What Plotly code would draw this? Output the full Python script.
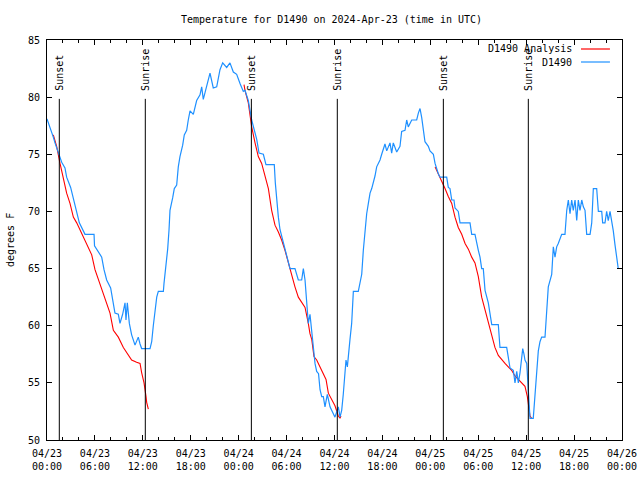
import pandas as pd
import plotly.graph_objects as go

START = pd.Timestamp("2024-04-23 00:00")

# D1490 observations: hours since 2024-04-23 00:00 UTC, temperature (F)
obs_hours = [
    0.0, 0.38, 0.6, 0.79, 1.0, 1.42, 1.84, 2.25, 2.46, 2.96, 3.3, 3.72, 4.05, 4.76, 5.89, 5.95,
    6.43, 6.85, 7.14, 7.47, 7.97, 8.31, 8.51, 8.93, 9.14, 9.47, 9.77, 9.89, 10.06, 10.31, 10.6,
    11.02, 11.43, 11.65, 11.85, 12.9, 13.11, 13.31, 13.52, 13.74, 13.94, 14.57, 14.65, 14.78,
    14.99, 15.11, 15.28, 15.4, 15.74, 15.94, 16.24, 16.44, 16.65, 16.99, 17.19, 17.49, 17.69,
    17.91, 18.32, 18.74, 19.16, 19.37, 19.57, 20.0, 20.41, 20.82, 21.25, 21.66, 22.0, 22.5,
    22.91, 23.33, 23.75, 24.17, 24.58, 24.79, 25.21, 25.63, 25.84, 26.26, 26.55, 27.09, 27.42,
    28.46, 28.59, 28.76, 28.97, 29.18, 29.59, 29.8, 30.01, 30.43, 31.05, 31.47, 31.89, 32.1,
    32.31, 32.52, 32.72, 32.93, 33.15, 33.35, 33.56, 33.77, 34.0, 34.19, 34.4, 34.6, 34.81,
    35.1, 35.44, 36.06, 36.48, 36.69, 36.9, 37.1, 37.32, 37.44, 37.61, 37.73, 37.94, 38.15,
    38.36, 38.98, 39.19, 39.41, 39.61, 39.82, 40.03, 40.24, 40.45, 40.66, 40.86, 41.07, 41.28,
    41.7, 41.91, 42.11, 42.32, 42.54, 42.95, 43.16, 43.36, 43.79, 44.2, 44.41, 44.83, 45.04,
    45.24, 45.67, 46.29, 46.5, 46.71, 46.92, 47.12, 47.33, 47.75, 47.96, 48.38, 48.59, 49.0,
    49.21, 50.05, 50.25, 50.46, 50.68, 50.96, 51.09, 51.5, 51.72, 52.97, 53.18, 53.59, 53.81,
    54.01, 54.22, 54.43, 54.63, 54.76, 54.85, 55.26, 55.47, 55.69, 56.51, 56.72, 57.56, 57.76,
    57.98, 58.39, 58.6, 58.82, 59.02, 59.23, 59.44, 59.57, 59.73, 59.85, 60.07, 60.19, 60.27,
    60.48, 60.89, 61.11, 61.32, 61.52, 61.73, 61.94, 62.36, 62.57, 62.77, 63.2, 63.4, 63.61,
    63.82, 64.02, 64.24, 64.45, 64.86, 65.08, 65.28, 65.49, 65.7, 65.9, 66.12, 66.33, 66.53,
    66.74, 66.96, 67.16, 67.37, 67.58, 68.0, 68.21, 68.41, 68.83, 69.04, 69.46, 69.58, 69.87,
    70.08, 70.28, 70.5, 70.71, 70.91, 71.12, 71.33, 71.53,
]
obs_temps = [
    78.1, 77.4, 77.0, 76.5, 76.0, 75.1, 74.3, 73.8, 73.0, 72.1, 71.1, 70.0, 69.0, 68.0, 68.0, 67.0,
    66.5, 66.0, 64.9, 64.0, 63.3, 62.0, 61.1, 61.0, 60.2, 61.0, 62.0, 60.5, 62.0, 60.2, 59.2,
    58.3, 59.0, 58.4, 58.0, 58.0, 58.6, 60.0, 61.0, 62.5, 63.0, 63.0, 63.7, 64.5,
    65.8, 66.7, 68.4, 70.1, 71.2, 72.0, 72.3, 73.9, 74.8, 75.8, 76.7, 77.1, 78.0,
    78.8, 78.5, 79.7, 80.2, 80.9, 79.8, 81.0, 82.1, 80.8, 80.9, 82.4, 83.0, 82.6,
    83.0, 82.2, 82.0, 81.2, 80.5, 80.6, 79.7, 78.0, 77.4, 76.3, 75.1, 75.0, 74.1,
    74.1, 72.5, 71.0, 69.5, 68.4, 67.2, 66.6, 66.0, 65.0, 65.0, 64.0, 64.0, 65.0,
    64.0, 62.0, 60.2, 61.0, 59.3, 57.8, 56.7, 56.0, 55.8, 54.4, 53.8, 53.8, 52.9,
    54.0, 52.9, 52.0, 52.9, 52.0, 52.6, 54.0, 55.9, 57.0, 56.4, 57.6, 58.8, 60.2,
    63.0, 63.0, 63.7, 64.5, 66.6, 68.4, 69.8, 70.7, 71.6, 72.0, 72.5, 73.1, 73.9,
    74.5, 75.0, 75.4, 75.9, 75.3, 76.0, 75.1, 76.0, 75.2, 75.7, 77.0, 77.1, 78.0,
    77.4, 78.0, 78.0, 78.6, 79.0, 78.2, 77.1, 76.1, 75.7, 75.3, 75.0, 74.2, 73.3,
    73.0, 73.0, 72.1, 72.0, 71.0, 71.0, 70.3, 70.0, 69.0, 69.0, 68.0, 68.0, 67.1,
    66.6, 66.0, 65.0, 65.0, 64.0, 63.1, 62.0, 61.1, 60.1, 60.1, 58.1, 58.1, 57.0,
    56.3, 56.1, 55.0, 56.0, 55.0, 55.9, 57.0, 58.0, 57.5, 57.0, 56.7, 55.0, 54.2,
    51.9, 51.9, 53.8, 55.9, 57.8, 58.6, 59.0, 59.0, 61.4, 63.4, 64.5, 66.9, 66.0,
    66.9, 67.2, 67.7, 68.0, 68.0, 70.1, 71.0, 69.8, 71.0, 70.1, 71.0, 69.2, 71.0,
    70.1, 71.0, 70.4, 70.1, 68.0, 68.0, 69.0, 72.0, 72.0, 70.0, 70.0, 69.0, 69.0,
    70.0, 69.2, 70.0, 69.2, 68.3, 67.1, 66.0, 65.0,
]

# D1490 Analysis (three overnight segments, None = gap)
ana_hours = [
    0.79, 1.21, 1.63, 2.05, 2.46, 2.88, 3.3, 3.72, 4.35, 4.97, 5.6, 6.01, 6.64, 7.27, 7.89,
    8.31, 8.93, 9.56, 10.18, 10.6, 11.22, 11.65, 11.85, 12.15, 12.4, 12.48, 12.69, None,
    24.67, 24.79, 25.21, 25.63, 26.05, 26.46, 26.88, 27.3, 27.72, 28.13, 28.55, 28.97, 29.38,
    29.8, 30.22, 30.64, 31.05, 31.47, 31.89, 32.31, 32.72, 32.93, 33.15, 33.43, 33.77, 34.19,
    34.6, 34.94, 35.23, 35.65, 36.06, 36.48, 36.69, 36.81, None,
    48.59, 49.0, 49.42, 49.84, 50.25, 50.68, 51.09, 51.5, 51.93, 52.35, 52.76, 53.18, 53.59,
    54.01, 54.43, 54.85, 55.26, 55.69, 56.09, 56.51, 56.93, 57.35, 57.76, 58.18, 58.6, 59.02,
    59.44, 59.85, 60.15, 60.27, 60.48, 60.69,
]
ana_temps = [
    76.7, 75.7, 74.2, 73.0, 71.6, 70.7, 69.5, 69.0, 68.1, 67.2, 66.2, 64.9, 63.6, 62.5, 61.1,
    59.6, 59.0, 58.1, 57.4, 57.0, 56.8, 56.7, 55.9, 55.0, 53.8, 53.3, 52.7, None,
    81.1, 80.6, 79.5, 77.4, 76.0, 74.8, 74.2, 73.0, 72.0, 70.1, 68.8, 68.2, 67.5,
    66.6, 65.5, 64.5, 63.4, 62.5, 62.1, 61.6, 60.2, 59.3, 58.8, 57.3, 57.0, 56.4,
    55.9, 55.3, 54.1, 53.6, 53.0, 52.1, 51.9, 52.1, None,
    73.9, 73.3, 72.6, 72.0, 71.3, 70.7, 69.5, 68.6, 68.0, 67.2, 66.7, 66.0, 65.5,
    64.3, 62.5, 61.4, 60.2, 59.0, 58.1, 57.4, 57.0, 56.7, 56.4, 56.1, 55.6, 55.3,
    55.0, 54.7, 53.8, 53.0, 52.1, 51.9,
]

# Sunset / sunrise events (hours since start)
sun_event_hours = [1.54, 12.31, 25.59, 36.35, 49.63, 60.27]
sun_event_labels = ["Sunset", "Sunrise", "Sunset", "Sunrise", "Sunset", "Sunrise"]

tick_hours = [0, 6, 12, 18, 24, 30, 36, 42, 48, 54, 60, 66, 72]
tick_labels = ["04/23<br>00:00", "04/23<br>06:00", "04/23<br>12:00", "04/23<br>18:00",
               "04/24<br>00:00", "04/24<br>06:00", "04/24<br>12:00", "04/24<br>18:00",
               "04/25<br>00:00", "04/25<br>06:00", "04/25<br>12:00", "04/25<br>18:00",
               "04/26<br>00:00"]

y_ticks = [50, 55, 60, 65, 70, 75, 80, 85]


def to_time(hours):
    return [None if h is None else START + pd.Timedelta(hours=h) for h in hours]


FONT = "DejaVu Sans Mono"
RED = "#ff0000"
BLUE = "#1e90ff"

fig = go.Figure()
fig.add_trace(go.Scatter(x=to_time(ana_hours), y=ana_temps, mode="lines",
                         name="D1490 Analysis", line=dict(color=RED, width=1.1),
                         connectgaps=False, showlegend=False))
fig.add_trace(go.Scatter(x=to_time(obs_hours), y=obs_temps, mode="lines",
                         name="D1490", line=dict(color=BLUE, width=1.2),
                         showlegend=False))

shapes = []
annotations = []
for h, lab in zip(sun_event_hours, sun_event_labels):
    t = START + pd.Timedelta(hours=h)
    shapes.append(dict(type="line", xref="x", yref="y", x0=t, x1=t, y0=50, y1=79.85,
                       line=dict(color="black", width=1)))
    annotations.append(dict(x=t, y=80.4, xref="x", yref="y", text=lab, textangle=-90,
                            showarrow=False, xanchor="center", yanchor="bottom",
                            font=dict(family=FONT, size=10, color="black")))

# manual legend (gnuplot style: text right, sample line to the right)
legend_items = [("D1490 Analysis", RED, 0.9775), ("D1490", BLUE, 0.945)]
for name, col, yp in legend_items:
    annotations.append(dict(x=0.9165, y=yp, xref="paper", yref="paper", text=name,
                            showarrow=False, xanchor="right", yanchor="middle",
                            font=dict(family=FONT, size=10, color="black")))
    shapes.append(dict(type="line", xref="paper", yref="paper", x0=0.9287, x1=0.979,
                       y0=yp, y1=yp, line=dict(color=col, width=1.2)))

annotations.append(dict(x=-0.0643, y=0.5, xref="paper", yref="paper", text="degrees F",
                        textangle=-90, showarrow=False, xanchor="center", yanchor="middle",
                        font=dict(family=FONT, size=10, color="black")))

fig.update_layout(
    width=640, height=480,
    margin=dict(l=47, r=18, t=40, b=40, autoexpand=False),
    paper_bgcolor="white", plot_bgcolor="white",
    font=dict(family=FONT, size=10, color="black"),
    title=dict(text="Temperature for D1490 on 2024-Apr-23 (time in UTC)",
               x=0.518, xanchor="center", y=1 - 19 / 480, yanchor="middle",
               font=dict(family=FONT, size=10, color="black")),
    shapes=shapes, annotations=annotations, showlegend=False,
)
fig.update_xaxes(
    range=[START, START + pd.Timedelta(hours=72)], automargin=False,
    tickvals=to_time(tick_hours), ticktext=tick_labels, ticklabelstandoff=4,
    showgrid=False, zeroline=False, showline=True, linecolor="black", linewidth=1,
    mirror="allticks", ticks="inside", ticklen=5, tickcolor="black",
    minor=dict(dtick=2 * 3600 * 1000, ticks="inside", ticklen=3, tickcolor="black",
               showgrid=False),
    tickfont=dict(family=FONT, size=10, color="black"),
)
fig.update_yaxes(
    range=[50, 85], tickvals=y_ticks, automargin=False, ticklabelstandoff=4,
    showgrid=False, zeroline=False, showline=True, linecolor="black", linewidth=1,
    mirror="allticks", ticks="inside", ticklen=5, tickcolor="black",
    tickfont=dict(family=FONT, size=10, color="black"),
)

fig.write_html("out.html")
